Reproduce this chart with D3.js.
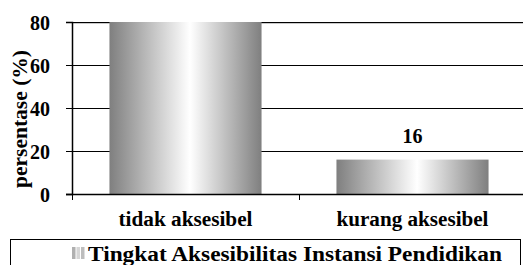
<!DOCTYPE html>
<html>
<head>
<meta charset="utf-8">
<script src="https://cdn.jsdelivr.net/npm/d3@7"></script>
<style>
  body { margin: 0; background: #fff; }
</style>
</head>
<body>
<div id="chart"></div>
<script>
// Data
const categories = ["tidak aksesibel", "kurang aksesibel"];
const values = [80, 16];
const shownLabels = [false, true];
const yTicks = [0, 20, 40, 60, 80];
const seriesName = "Tingkat Aksesibilitas Instansi Pendidikan";

const FONT = "Liberation Serif";

const W = 523, H = 265;
const margin = { top: 22, right: -3, bottom: 71, left: 72 };
const width = W - margin.left - margin.right,
      height = H - margin.top - margin.bottom;

const svg = d3.select("#chart")
  .append("svg")
  .attr("width", W)
  .attr("height", H)
  .attr("font-family", FONT);

// Gradient for the bars
const defs = svg.append("defs");
const grad = defs.append("linearGradient")
  .attr("id", "barGrad")
  .attr("x1", "0%").attr("x2", "100%")
  .attr("y1", "0%").attr("y2", "0%");
grad.append("stop").attr("offset", "0%").attr("stop-color", "#7f7f7f");
grad.append("stop").attr("offset", "53%").attr("stop-color", "#ffffff");
grad.append("stop").attr("offset", "100%").attr("stop-color", "#7f7f7f");

const g = svg.append("g")
  .attr("transform", `translate(${margin.left},${margin.top})`);

// Scales
const x = d3.scaleBand()
  .domain(categories)
  .range([0, width])
  .paddingInner(0.33)
  .paddingOuter(0.165);

const y = d3.scaleLinear()
  .domain([0, 80])
  .range([height, 0]);

// Gridlines
g.selectAll(".grid")
  .data(yTicks.filter(d => d > 0))
  .enter().append("line")
  .attr("x1", 0).attr("x2", width)
  .attr("y1", d => Math.round(y(d)) + 0.5)
  .attr("y2", d => Math.round(y(d)) + 0.5)
  .attr("stroke", "#000")
  .attr("stroke-width", 1);
// soft shadow under the top border line
g.append("line")
  .attr("x1", 0).attr("x2", width)
  .attr("y1", Math.round(y(80)) + 1.5).attr("y2", Math.round(y(80)) + 1.5)
  .attr("stroke", "#c8c8c8");

// Bars
const rows = categories.map((c, i) => ({ cat: c, value: values[i], show: shownLabels[i] }));

g.selectAll(".bar")
  .data(rows)
  .enter().append("rect")
  .attr("x", d => x(d.cat))
  .attr("y", d => y(d.value))
  .attr("width", x.bandwidth())
  .attr("height", d => height - y(d.value))
  .attr("fill", "url(#barGrad)");

// Y axis
const yAxis = g.append("g")
  .call(d3.axisLeft(y).tickValues(yTicks).tickSize(6).tickPadding(16))
  .attr("font-family", FONT)
  .attr("font-size", 20)
  .attr("font-weight", "bold");
yAxis.select(".domain").attr("stroke", "#000").attr("stroke-width", 1.5);
yAxis.selectAll("line").attr("stroke", "#000");
yAxis.selectAll("text").attr("fill", "#000").attr("dy", "0.36em");

// X axis (ticks between categories)
const xAxisG = g.append("g").attr("transform", `translate(0,${height})`);
xAxisG.append("line")
  .attr("x1", -6).attr("x2", width)
  .attr("y1", 0.5).attr("y2", 0.5)
  .attr("stroke", "#000").attr("stroke-width", 1.5);
const step = x.step();
xAxisG.selectAll(".xtick")
  .data(d3.range(categories.length + 1))
  .enter().append("line")
  .attr("x1", d => Math.round(d * step) + 0.5)
  .attr("x2", d => Math.round(d * step) + 0.5)
  .attr("y1", 0).attr("y2", 6)
  .attr("stroke", "#000");
const labelWidths = [134, 152];
xAxisG.selectAll(".xlab")
  .data(categories)
  .enter().append("text")
  .attr("x", d => x(d) + x.bandwidth() / 2)
  .attr("y", 32)
  .attr("text-anchor", "middle")
  .attr("font-weight", "bold")
  .attr("font-size", 20)
  .attr("textLength", (d, i) => labelWidths[i])
  .attr("lengthAdjust", "spacingAndGlyphs")
  .text(d => d);

// Value labels
g.selectAll(".val")
  .data(rows.filter(d => d.show))
  .enter().append("text")
  .attr("x", d => x(d.cat) + x.bandwidth() / 2)
  .attr("y", d => y(d.value) - 17)
  .attr("text-anchor", "middle")
  .attr("font-weight", "bold")
  .attr("font-size", 20)
  .text(d => d.value);

// Y label
svg.append("text")
  .attr("transform", "rotate(-90)")
  .attr("x", -119)
  .attr("y", 27)
  .attr("text-anchor", "middle")
  .attr("font-weight", "bold")
  .attr("font-size", 20)
  .attr("textLength", 138)
  .attr("lengthAdjust", "spacingAndGlyphs")
  .text("persentase (%)");

// Legend
const leg = svg.append("g");
leg.append("rect")
  .attr("x", 10.5).attr("y", 239.5)
  .attr("width", 510).attr("height", 40)
  .attr("fill", "#fff").attr("stroke", "#000");
const swatch = ["#b0b0b0", "#d6d6d6", "#bdbdbd"];
leg.selectAll(".sw")
  .data(swatch)
  .enter().append("rect")
  .attr("x", (d, i) => 72 + i * 4.5)
  .attr("y", 247)
  .attr("width", 3.5).attr("height", 12)
  .attr("fill", d => d);
leg.append("text")
  .attr("x", 88).attr("y", 261)
  .attr("font-weight", "bold")
  .attr("font-size", 20)
  .attr("textLength", 414)
  .attr("lengthAdjust", "spacingAndGlyphs")
  .text(seriesName);
</script>
</body>
</html>
